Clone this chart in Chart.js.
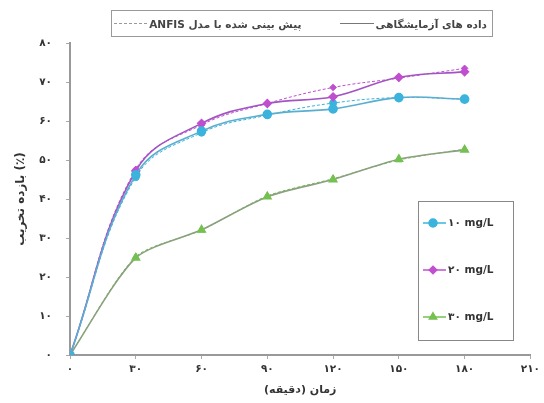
<!DOCTYPE html>
<html>
<head>
<meta charset="utf-8">
<script src="https://cdn.jsdelivr.net/npm/chart.js@4.4.1/dist/chart.umd.min.js"></script>
<style>
  body { margin: 0; background: #fff; }
  #wrap { position: relative; width: 544px; height: 403px; }
  #topLegend {
    position: absolute; left: 111px; top: 10px; width: 382px; height: 27px;
    border: 1px solid #9a9a9a; box-sizing: border-box;
    font-family: "DejaVu Sans", sans-serif; font-size: 10.5px; font-weight: bold; color: #444;
    direction: rtl; display: flex; align-items: center; padding-right: 5px; white-space: nowrap;
  }
  #topLegend .ln { display: inline-block; width: 36px; height: 0; border-top: 1px solid #777; margin: 0 2px; }
  #topLegend .ln.dash { border-top: 1px dashed #999; }
  #topLegend .gap { display: inline-block; width: 40px; }
</style>
</head>
<body>
<div id="wrap">
  <canvas id="chart"></canvas>
  <div id="topLegend">
    <span>داده های آزمایشگاهی</span><span class="ln"></span>
    <span class="gap"></span>
    <span>پیش بینی شده با مدل ANFIS</span><span class="ln dash"></span>
  </div>
</div>
<script>
// ====== DATA ======
const times   = [0, 30, 60, 90, 120, 150, 180];
const labels  = ['۱۰ mg/L', '۲۰ mg/L', '۳۰ mg/L'];
// experimental removal efficiency (%)
const exp10   = [0, 46.2, 57.4, 61.7, 63.1, 66.0, 65.6];
const exp20   = [0, 47.2, 59.4, 64.5, 66.2, 71.2, 72.6];
const exp30   = [0, 24.9, 32.1, 40.6, 45.0, 50.2, 52.6];
// ANFIS predictions
const anfis10 = [0, 45.6, 57.0, 61.5, 64.6, 66.0, 65.6];
const anfis20 = [0, 47.6, 59.0, 64.5, 68.6, 71.0, 73.5];
const anfis30 = [0, 25.2, 32.0, 40.8, 45.2, 50.0, 52.8];

const colors  = ['#3bb3dd', '#c04fd0', '#74c050'];
const lineCol = ['#5aaed0', '#a354c4', '#8aa17e'];
const styles  = ['circle', 'rectRot', 'triangle'];
const radii   = [4, 3.8, 4.2];
const tension = [0.4, 0.4, 0.25];

// ====== UTIL ======
const faDigits = '۰۱۲۳۴۵۶۷۸۹';
function toFa(n){ return String(n).replace(/\d/g, d => faDigits[d]); }
function pts(arr){ return arr.map((v, i) => ({ x: times[i], y: v })); }

const FONT = '"DejaVu Sans", sans-serif';

const datasets = [];
[exp10, exp20, exp30].forEach((arr, i) => {
  datasets.push({
    label: labels[i],
    data: pts(arr),
    borderColor: lineCol[i],
    backgroundColor: colors[i],
    pointBorderColor: colors[i],
    pointStyle: styles[i],
    pointRadius: radii[i],
    borderWidth: 1.6,
    tension: tension[i],
    order: 1
  });
});
[anfis10, anfis20, anfis30].forEach((arr, i) => {
  datasets.push({
    label: 'ANFIS ' + labels[i],
    data: pts(arr),
    borderColor: colors[i],
    backgroundColor: colors[i],
    pointBorderColor: colors[i],
    pointStyle: styles[i],
    pointRadius: radii[i] - 0.5,
    borderWidth: 1,
    borderDash: [3, 2],
    tension: tension[i],
    order: 2
  });
});

// legend box inside the plot (right side)
const boxLegend = {
  id: 'boxLegend',
  afterDraw(chart){
    const ctx = chart.ctx;
    const x0 = 418, y0 = 201, w = 95, h = 139;
    ctx.save();
    ctx.fillStyle = '#fff';
    ctx.fillRect(x0, y0, w, h);
    ctx.strokeStyle = '#888';
    ctx.lineWidth = 1;
    ctx.strokeRect(x0 + 0.5, y0 + 0.5, w, h);
    const rows = [223, 270, 317];
    rows.forEach((yy, i) => {
      ctx.strokeStyle = colors[i];
      ctx.lineWidth = 1.5;
      ctx.beginPath(); ctx.moveTo(423, yy); ctx.lineTo(446, yy); ctx.stroke();
      ctx.fillStyle = colors[i];
      Chart.helpers.drawPoint(ctx, { pointStyle: styles[i], radius: radii[i], borderWidth: 1 }, 433, yy);
      ctx.fillStyle = '#333';
      ctx.font = 'bold 10.5px ' + FONT;
      ctx.textBaseline = 'middle';
      ctx.textAlign = 'left';
      ctx.fillText(labels[i], 448, yy);
    });
    ctx.restore();
  }
};

new Chart(document.getElementById('chart'), {
  type: 'line',
  data: { datasets },
  options: {
    responsive: true,
    maintainAspectRatio: false,
    animation: false,
    layout: { padding: { top: 43, right: 12 } },
    plugins: { legend: { display: false }, tooltip: { enabled: false } },
    scales: {
      x: {
        type: 'linear', min: 0, max: 210,
        ticks: { stepSize: 30, color: '#333', font: { family: FONT, size: 10.5, weight: 'bold' }, callback: v => toFa(v), padding: 4 },
        grid: { drawOnChartArea: false, tickLength: 4, color: '#aaa' },
        border: { color: '#999', width: 2 },
        title: { display: true, text: 'زمان (دقیقه)', color: '#333', font: { family: FONT, size: 11, weight: 'bold' }, padding: { top: 0, bottom: 6 } },
        afterFit(s){ s.height = 48; }
      },
      y: {
        min: 0, max: 80,
        ticks: { stepSize: 10, color: '#333', font: { family: FONT, size: 10.5, weight: 'bold' }, callback: v => toFa(v), padding: 14 },
        grid: { drawOnChartArea: false, tickLength: 4, color: '#aaa' },
        border: { color: '#999', width: 2 },
        title: { display: true, text: 'بازده تخریب (٪)', color: '#333', font: { family: FONT, size: 12, weight: 'bold' }, padding: { top: 14, bottom: 0 } },
        afterFit(s){ s.width = 70; }
      }
    }
  },
  plugins: [boxLegend]
});
</script>
</body>
</html>
